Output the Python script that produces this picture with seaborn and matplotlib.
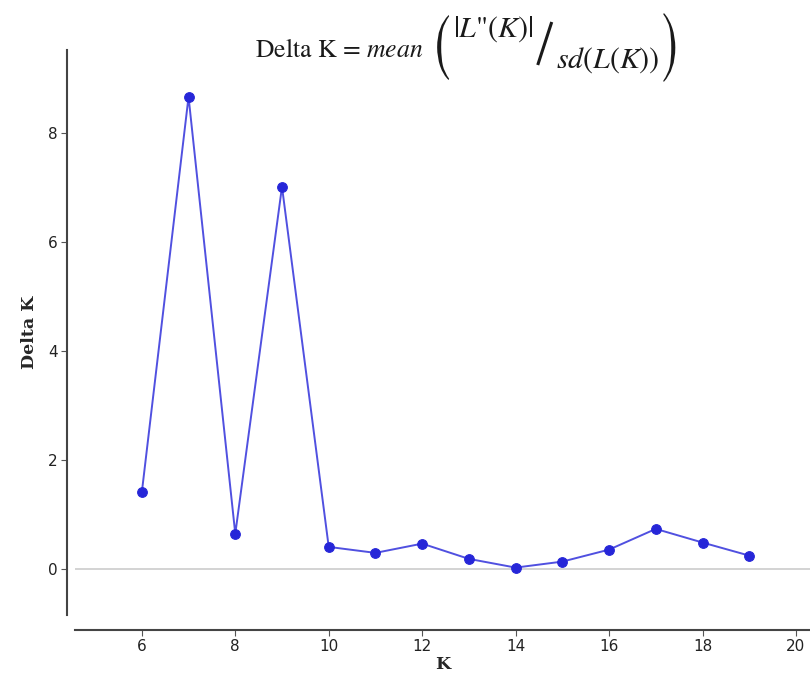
import matplotlib
matplotlib.use("Agg")
import matplotlib.pyplot as plt
import seaborn as sns
import pandas as pd
from matplotlib.textpath import TextPath
from matplotlib.patches import PathPatch
from matplotlib.lines import Line2D
from matplotlib.font_manager import FontProperties
from matplotlib.transforms import Affine2D, IdentityTransform

k_values = [6, 7, 8, 9, 10, 11, 12, 13, 14, 15, 16, 17, 18, 19]
delta_k = [1.40, 8.66, 0.64, 7.01, 0.40, 0.29, 0.46, 0.18, 0.02, 0.13, 0.35, 0.73, 0.48, 0.24]
x_ticks = [6, 8, 10, 12, 14, 16, 18, 20]
y_ticks = [0, 2, 4, 6, 8]

sns.set_theme(style="ticks")
plt.rcParams['font.family'] = ['DejaVu Sans']
plt.rcParams['mathtext.fontset'] = 'stix'

df = pd.DataFrame({"K": k_values, "DeltaK": delta_k})

W, H = 810, 678
fig = plt.figure(figsize=(W / 100, H / 100), dpi=100)
ax = fig.add_axes([75 / W, 1 - 615 / H, 735 / W, 565 / H])

ax.axhline(0, color="#cccccc", lw=1.2, zorder=1)
sns.lineplot(data=df, x="K", y="DeltaK", ax=ax, color="#5050e0", lw=1.4,
             marker="o", markersize=7, markerfacecolor="#2626d8",
             markeredgecolor="#2626d8", zorder=3)

ax.set_xlim(4.57, 20.3)
ax.set_ylim(-0.85, 9.52)
ax.set_xticks(x_ticks)
ax.set_yticks(y_ticks)
ax.tick_params(axis="both", labelsize=11, colors="#555555", length=4, width=0.8,
               labelcolor="#222222", pad=2.5)
for side in ["left", "bottom"]:
    ax.spines[side].set_color("#444444")
    ax.spines[side].set_linewidth(1.5)
sns.despine(ax=ax)
ax.spines["left"].set_position(("outward", 6))
ax.spines["bottom"].set_position(("outward", 11))

ax.set_xlabel("K", family="DejaVu Serif", fontweight="bold", fontsize=12.5, labelpad=1)
ax.set_ylabel("Delta K", family="DejaVu Serif", fontweight="bold", fontsize=12.5, labelpad=7)


# ---- formula title, built from pieces laid out in pixel coordinates ----
INK = "#1a1a1a"


def make_text(s, y_base, size):
    return fig.text(0, 1 - y_base / H, s, ha="left", va="baseline",
                    fontsize=size, family="STIXGeneral", color=INK)


def glyph_box(ch, x0, x1, y0, y1):
    tp = TextPath((0, 0), ch, size=100, prop=FontProperties(family="STIXGeneral"))
    ext = tp.get_extents()
    tr = (Affine2D().translate(-ext.x0, -ext.y0)
          .scale((x1 - x0) / ext.width, (y1 - y0) / ext.height)
          .translate(x0, H - y1))
    fig.add_artist(PathPatch(tr.transform_path(tp), transform=IdentityTransform(),
                             facecolor=INK, edgecolor="none"))


t_main = make_text(r'Delta K = $mean$', 57, 18.5)
t_num = make_text(r'$|L$"$(K)|$', 37, 21.5)
t_den = make_text(r'$sd(L(K))$', 68, 21.5)
fig.canvas.draw()
w_main = t_main.get_window_extent().width
w_num = t_num.get_window_extent().width
w_den = t_den.get_window_extent().width

# horizontal layout: main, gap, (, num, /, den, )
gap_main, pw, g1, sw, g2 = 14, 12, 4, 15, 4
total = w_main + gap_main + pw + g1 + w_num + 3 + sw + g2 + w_den + g1 + pw
x = 465 - total / 2
t_main.set_x(x / W)
x += w_main + gap_main
glyph_box("(", x, x + pw, 15, 80)
x += pw + g1
t_num.set_x(x / W)
x += w_num + 3
fig.add_artist(Line2D([x + 1, x + sw], [H - 65, H - 22], transform=IdentityTransform(),
                      color=INK, lw=2.2, solid_capstyle="butt"))
x += sw + g2
t_den.set_x(x / W)
x += w_den + g1
glyph_box(")", x, x + pw, 13, 82)

fig.savefig("out.png", dpi=100)
